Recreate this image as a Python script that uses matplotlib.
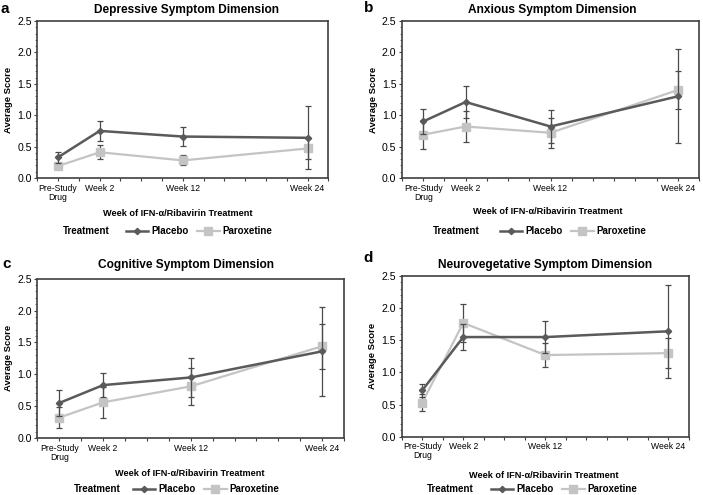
import numpy as np
import matplotlib
matplotlib.use('Agg')
import matplotlib.pyplot as plt
from matplotlib.lines import Line2D

plt.rcParams['font.family'] = ['Liberation Sans', 'DejaVu Sans']

##################################################
#################  DATA  #########################
##################################################

# x positions on the (uneven) week axis, tick units
weeks = ['Pre-Study\nDrug', 'Week 2', 'Week 12', 'Week 24']
week_pos = [1, 3, 7, 13]

titles = ['Depressive Symptom Dimension', 'Anxious Symptom Dimension',
          'Cognitive Symptom Dimension', 'Neurovegetative Symptom Dimension']
letters = ['a', 'b', 'c', 'd']

placebo_a = [0.33, 0.75, 0.66, 0.64]
placebo_a_err = [0.09, 0.16, 0.15, 0.50]
parox_a = [0.19, 0.41, 0.28, 0.47]
parox_a_err = [0.04, 0.11, 0.08, 0.16]

placebo_b = [0.90, 1.21, 0.82, 1.30]
placebo_b_err = [0.20, 0.26, 0.26, 0.75]
parox_b = [0.69, 0.82, 0.72, 1.40]
parox_b_err = [0.23, 0.24, 0.24, 0.30]

placebo_c = [0.55, 0.83, 0.95, 1.36]
placebo_c_err = [0.20, 0.19, 0.30, 0.70]
parox_c = [0.32, 0.56, 0.81, 1.44]
parox_c_err = [0.16, 0.24, 0.29, 0.35]

placebo_d = [0.72, 1.55, 1.55, 1.64]
placebo_d_err = [0.10, 0.20, 0.25, 0.72]
parox_d = [0.53, 1.77, 1.27, 1.30]
parox_d_err = [0.13, 0.30, 0.18, 0.23]

W, H = 703, 495
DARK = '#5a5a5a'
LIGHT = '#c4c4c4'
ERR = '#4a4a4a'

# axes boxes in pixels: left, right, top, bottom
boxes = [(37.3, 328.3, 21, 178), (402, 699, 21, 178),
         (37.4, 344, 278.7, 438), (401.7, 689, 276, 436.7)]
title_xy = [(186, 10), (552, 10), (186, 265), (545, 265)]
letter_xy = [(5, 9), (369, 8), (7, 264), (368, 258)]
xlabel_xy = [(178, 213), (548, 212), (190, 474), (544, 476)]
legend_x = [(63, 126), (433, 500), (74, 133), (427, 491)]  # 'Treatment' left, legend left
legend_y = [231, 231, 489, 489]


def fx(x):
    return x / W


def fy(y):
    return 1 - y / H


def main():
    fig = plt.figure(figsize=(W / 100, H / 100), dpi=100)
    panels = [(placebo_a, placebo_a_err, parox_a, parox_a_err),
              (placebo_b, placebo_b_err, parox_b, parox_b_err),
              (placebo_c, placebo_c_err, parox_c, parox_c_err),
              (placebo_d, placebo_d_err, parox_d, parox_d_err)]

    for i, (pl, ple, px, pxe) in enumerate(panels):
        l, r, t, b = boxes[i]
        ax = fig.add_axes([fx(l), fy(b), fx(r - l), (b - t) / H])

        # paroxetine first so placebo sits on top
        ax.errorbar(week_pos, px, yerr=pxe, color=LIGHT, lw=1.6, marker='s', ms=5.5,
                    mec=LIGHT, mfc=LIGHT, ecolor=ERR, elinewidth=0.9, capsize=2.5,
                    capthick=0.9, zorder=3)
        ax.errorbar(week_pos, pl, yerr=ple, color=DARK, lw=1.8, marker='D', ms=3.2,
                    mec=DARK, mfc=DARK, ecolor=ERR, elinewidth=0.9, capsize=2.5,
                    capthick=0.9, zorder=4)

        ax.set_xlim(0, 14)
        ax.set_ylim(0, 2.5)
        ax.set_xticks(range(15))
        labels = [''] * 15
        for p, w in zip(week_pos, weeks):
            labels[p] = w
        ax.set_xticklabels(labels, fontsize=6.2, linespacing=1.0)
        ax.set_yticks([0, 0.5, 1.0, 1.5, 2.0, 2.5])
        ax.set_yticklabels(['0.0', '0.5', '1.0', '1.5', '2.0', '2.5'], fontsize=7.6)
        ax.set_yticks(np.arange(0, 2.51, 0.1), minor=True)
        ax.tick_params(axis='both', which='major', direction='out', length=2.5,
                       width=0.8, color='#404040', pad=1.5)
        ax.tick_params(axis='y', which='minor', direction='out', length=1.2,
                       width=0.6, color='#606060')
        for s in ax.spines.values():
            s.set_color('#404040')
            s.set_linewidth(1.2)
        ax.set_ylabel('Average Score', fontsize=6.8, fontweight='bold', labelpad=3)

        fig.text(fx(title_xy[i][0]), fy(title_xy[i][1]), titles[i], fontsize=8.6,
                 fontweight='bold', ha='center', va='center')
        fig.text(fx(letter_xy[i][0]), fy(letter_xy[i][1]), letters[i], fontsize=11,
                 fontweight='bold', ha='center', va='center')
        fig.text(fx(xlabel_xy[i][0]), fy(xlabel_xy[i][1]),
                 'Week of IFN-\u03b1/Ribavirin Treatment', fontsize=6.6,
                 fontweight='bold', ha='center', va='center')

        tx, lx = legend_x[i]
        fig.text(fx(tx), fy(legend_y[i]), 'Treatment', fontsize=7, fontweight='bold',
                 ha='left', va='center')
        handles = [Line2D([], [], color=DARK, lw=1.8, marker='D', ms=3.2),
                   Line2D([], [], color=LIGHT, lw=1.6, marker='s', ms=5.5)]
        fig.legend(handles, ['Placebo', 'Paroxetine'], loc='center left',
                   bbox_to_anchor=(fx(lx), fy(legend_y[i])), ncol=2, frameon=False,
                   prop={'weight': 'bold', 'size': 7}, handlelength=2.3,
                   handletextpad=0.3, columnspacing=0.9, borderpad=0, borderaxespad=0)

    fig.savefig('out.png', dpi=100)


if __name__ == '__main__':
    main()
